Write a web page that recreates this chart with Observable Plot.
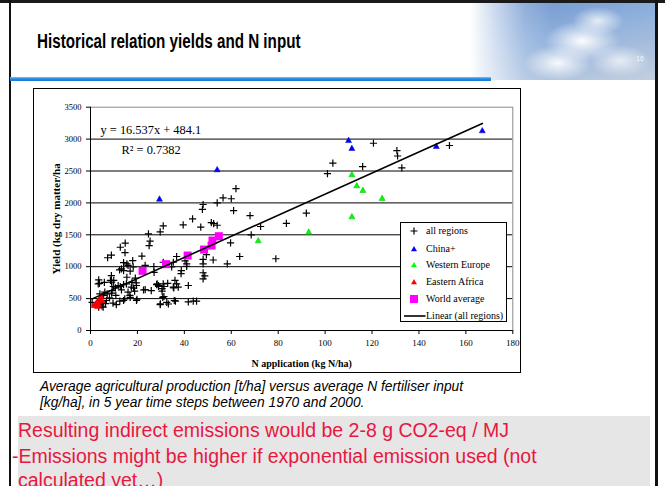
<!DOCTYPE html>
<html><head><meta charset="utf-8">
<script src="https://cdn.jsdelivr.net/npm/d3@7"></script>
<script src="https://cdn.jsdelivr.net/npm/@observablehq/plot@0.6"></script>
<style>
html,body{margin:0;padding:0;}
body{width:665px;height:486px;position:relative;overflow:hidden;background:#fff;font-family:"Liberation Sans",Arial,sans-serif;}
.abs{position:absolute;}
#topline{left:0;top:0;width:665px;height:3px;background:#1a1a1a;}
#leftline{left:9px;top:0;width:2px;height:486px;background:#111;}
#rightline{left:655px;top:0;width:3px;height:486px;background:#111;}
#clouds{left:470px;top:3px;width:185px;height:77px;
 background:
  radial-gradient(ellipse 38px 20px at 112px 38px, rgba(255,255,255,0.97), rgba(255,255,255,0)),
  radial-gradient(ellipse 34px 18px at 88px 60px, rgba(255,255,255,0.92), rgba(255,255,255,0)),
  radial-gradient(ellipse 30px 16px at 150px 58px, rgba(235,240,248,0.9), rgba(255,255,255,0)),
  radial-gradient(ellipse 26px 14px at 128px 18px, rgba(245,248,252,0.85), rgba(255,255,255,0)),
  linear-gradient(to right, rgba(255,255,255,1) 0%, rgba(255,255,255,0.2) 30%, rgba(255,255,255,0) 45%),
  linear-gradient(165deg, #6b92cc 0%, #8fb0dc 45%, #c4cfdf 100%);}
#pagenum{left:636px;top:55px;font-size:7px;color:#f4f6fa;}
#blueline{left:10px;top:77px;width:481px;height:4px;background:linear-gradient(to bottom,#7cc0f5,#1f86e6 50%,#1a78d8);}
#title{left:37px;top:31px;font-weight:bold;font-size:20px;line-height:20px;white-space:nowrap;transform:scaleX(0.76);transform-origin:0 0;color:#000;}
#chartbox{left:33px;top:88px;width:488px;height:285px;border:1px solid #000;box-sizing:border-box;background:#fff;}
#plot{position:absolute;left:0;top:0;}
#legend{position:absolute;left:366px;top:133px;width:107px;height:100px;border:1px solid #000;box-sizing:border-box;background:#fff;font-family:"Liberation Serif","Times New Roman",serif;font-size:10px;}
#legend .row{position:absolute;left:0;width:105px;height:14px;}
#legend .lbl{position:absolute;left:25px;top:0;line-height:14px;white-space:nowrap;}
#legend svg{position:absolute;left:0;top:0;}
.caption{left:40px;font-style:italic;font-size:13.8px;line-height:16px;white-space:nowrap;color:#000;}
#band{left:18px;top:416px;width:632px;height:70px;background:#e6e6e6;}
.red{font-size:19.5px;line-height:26px;white-space:nowrap;color:#e8173f;}
</style></head><body>
<div id="clouds" class="abs"></div>
<div id="topline" class="abs"></div>
<div id="leftline" class="abs"></div>
<div id="rightline" class="abs"></div>
<div id="pagenum" class="abs">16</div>
<div id="blueline" class="abs"></div>
<div id="title" class="abs">Historical relation yields and N input</div>
<div id="chartbox" class="abs"><div id="plot"></div><div id="legend"></div></div>
<div class="abs caption" style="top:379px">Average agricultural production [t/ha] versus average N fertiliser input</div>
<div class="abs caption" style="top:395px">[kg/ha], in 5 year time steps between 1970 and 2000.</div>
<div id="band" class="abs"></div>
<div class="abs red" style="left:18px;top:417px">Resulting indirect emissions would be 2-8 g CO2-eq / MJ</div>
<div class="abs red" style="left:12px;top:443px">-Emissions might be higher if exponential emission used (not</div>
<div class="abs red" style="left:18px;top:467px">calculated yet…)</div>
<script>
// ---------- data ----------
const allRegionsN = [0.7,101,62,56.5,60,54,48,47.7,61,68,92,43.5,83.5,51.5,52.5,54,39.5,47,31,72.5,68.5,24.7,29.7,25.4,25,14.8,12.7,14.7,59.7,63.6,8.9,7.3,21.9,36.7,49.4,52.3,48,40.3,41,14.1,15.5,18,31,35.3,48,58.3,79,12.4,14.1,16.9,23.3,34.6,41,38.6,48,48.7,48,8.9,9.9,8.5,3.5,3.8,5.9,27.1,15.5,19.1,17.7,19.5,17.4,18.4,12.7,14.1,10.6,9.2,7.1,5.6,4.5,6.4,4.9,3.5,9.6,11,8.1,14.1,16.9,19.8,22.6,23.3,25.9,28.2,29,30.5,31,30.8,29.7,32.5,33.2,32.9,35.3,36,36.7,37.4,35.7,41.7,41.7,43.8,45.2,120.6,130.6,130.9,153,103.3,116,132.7,16,18.2,13.2,3.3,9,9.7,11.8,15.3,19.6,13.2,16,18.8,6.1,4,9,10.8,6.8,4,5.4,12.5,14.6,19.6,16.8,38.7,28.4,29,31.3,35.5,30.5,31.3,29.8,36.2,27];
const allRegionsYield = [440,2460,2225,2080,2065,2000,1975,1900,1880,1800,1840,1750,1680,1690,1675,1650,1655,1620,1640,1630,1500,1515,1545,1400,1330,1370,1305,1220,1375,1160,1180,1140,1165,1160,1190,1105,1115,1090,1045,1065,1045,1095,1070,1070,1045,1045,1125,950,940,930,1020,995,1005,890,905,855,810,860,785,785,795,740,755,910,835,820,755,745,680,665,690,720,670,625,575,550,445,420,380,365,430,405,510,470,520,490,635,640,625,720,705,655,730,520,405,440,415,740,680,785,730,680,470,705,450,460,460,2935,2820,2735,2900,2625,2570,2550,1020,995,965,730,757,690,705,732,705,637,600,616,600,575,586,549,470,407,366,460,496,470,549,940,732,690,690,669,616,533,418,460,1003];
const chinaN = [29.4,54,110,111.4,147.4,167];
const chinaYield = [2063,2523,2982,2857,2890,3134];
const westEuropeN = [71.5,93,111.4,113.5,116.1,124.3,111.4];
const westEuropeYield = [1410,1545,2445,2272,2199,2074,1786];
const eastAfricaN = [2,2.5,3,3.5,4,4.5,5,3,1.5];
const eastAfricaYield = [400,430,460,410,500,540,470,380,395];
const worldAvgN = [22.2,32.2,41.4,48.4,51.6,52,54.7];
const worldAvgYield = [935,1040,1175,1269,1332,1410,1478];
const trendSlope = 16.537, trendIntercept = 484.1;
const equationText = "y = 16.537x + 484.1";
const r2Text = "R² = 0.7382";
const xTicks = [0,20,40,60,80,100,120,140,160,180];
const yTicks = [0,500,1000,1500,2000,2500,3000,3500];
const xLabel = "N application (kg N/ha)";
const yLabel = "Yield (kg dry matter/ha";
const legendLabels = ["all regions","China+","Western Europe","Eastern Africa","World average","Linear (all regions)"];

// ---------- build tables ----------
const zip = (xs, ys) => xs.map((x, i) => ({x, y: ys[i]}));
const allPts = zip(allRegionsN, allRegionsYield);
const chinaPts = zip(chinaN, chinaYield);
const wePts = zip(westEuropeN, westEuropeYield);
const eaPts = zip(eastAfricaN, eastAfricaYield);
const waPts = zip(worldAvgN, worldAvgYield);
const everyN = [...allRegionsN, ...chinaN, ...westEuropeN, ...eastAfricaN];
const trendPts = [d3.min(everyN), d3.max(everyN)].map(x => ({x, y: trendSlope * x + trendIntercept}));

const plusSym = {draw(c){c.moveTo(-3.6,0);c.lineTo(3.6,0);c.moveTo(0,-3.6);c.lineTo(0,3.6);}};
const triSym = {draw(c){c.moveTo(0,-3.1);c.lineTo(3,2.3);c.lineTo(-3,2.3);c.closePath();}};
const sqSym = {draw(c){c.rect(-4,-4,8,8);}};

const chart = Plot.plot({
  width: 486, height: 283,
  marginLeft: 56, marginRight: 7.7, marginTop: 17.7, marginBottom: 42,
  x: {domain: [0, 180]},
  y: {domain: [0, 3500]},
  style: {fontFamily: '"Liberation Serif","Times New Roman",serif', fontSize: "9px", color: "#000", background: "transparent"},
  marks: [
    Plot.ruleY(yTicks.filter(v => v > 0 && v < 3500), {stroke: "#000", strokeWidth: 1}),
    Plot.frame({stroke: "#8a8a8a"}),
    Plot.ruleX([0], {stroke: "#000"}),
    Plot.ruleY([0], {stroke: "#000"}),
    Plot.axisX({ticks: xTicks, tickSize: 4, tickPadding: 5, fontSize: 9, label: null, tickFormat: d => String(d)}),
    Plot.axisY({ticks: yTicks, tickSize: 4, tickPadding: 5, fontSize: 8.5, label: null, tickFormat: d => String(d)}),
    Plot.dot(allPts, {x: "x", y: "y", symbol: plusSym, stroke: "#000", strokeWidth: 1.2, fill: "none"}),
    Plot.dot(chinaPts, {x: "x", y: "y", symbol: triSym, fill: "#0000ff", stroke: "#0000cc", strokeWidth: 0.5}),
    Plot.dot(wePts, {x: "x", y: "y", symbol: triSym, fill: "#00ff00", stroke: "#00bb00", strokeWidth: 0.5}),
    Plot.dot(eaPts, {x: "x", y: "y", symbol: triSym, fill: "#ff0000", stroke: "#dd0000", strokeWidth: 0.5}),
    Plot.dot(waPts, {x: "x", y: "y", symbol: sqSym, fill: "#ff00ff", stroke: "none"}),
    Plot.line(trendPts, {x: "x", y: "y", stroke: "#000", strokeWidth: 1.6}),
    Plot.text([equationText], {frameAnchor: "top-left", dx: 10, dy: 22.5, textAnchor: "start", lineAnchor: "middle", fontSize: 12.4}),
    Plot.text([r2Text], {frameAnchor: "top-left", dx: 31, dy: 42.5, textAnchor: "start", lineAnchor: "middle", fontSize: 12.4}),
    Plot.text([xLabel], {frameAnchor: "bottom", dy: 33, textAnchor: "middle", lineAnchor: "middle", fontSize: 10, fontWeight: "bold"}),
    Plot.text([yLabel], {frameAnchor: "left", dx: -34, rotate: -90, textAnchor: "middle", lineAnchor: "middle", fontSize: 11, fontWeight: "bold"})
  ]
});
document.getElementById("plot").appendChild(chart);

// ---------- legend ----------
const legend = document.getElementById("legend");
const rowCenters = [9.3, 26.7, 42.7, 59.7, 77, 93.7];
const legendSym = [
  '<path d="M9.5,7H16.5M13,3.5V10.5" stroke="#000" stroke-width="1.2"/>',
  '<path d="M13,3.9L16,9.3L10,9.3Z" fill="#0000ff"/>',
  '<path d="M13,3.9L16,9.3L10,9.3Z" fill="#00ff00"/>',
  '<path d="M13,3.9L16,9.3L10,9.3Z" fill="#ff0000"/>',
  '<rect x="9" y="3" width="8" height="8" fill="#ff00ff"/>',
  '<path d="M3,7H24.5" stroke="#000" stroke-width="1.6"/>'
];
legendLabels.forEach((lab, i) => {
  const row = document.createElement("div");
  row.className = "row";
  row.style.top = (rowCenters[i] - 7 - 1) + "px";
  row.innerHTML = '<svg width="26" height="14">' + legendSym[i] + '</svg><span class="lbl">' + lab + '</span>';
  legend.appendChild(row);
});
</script>
</body></html>
